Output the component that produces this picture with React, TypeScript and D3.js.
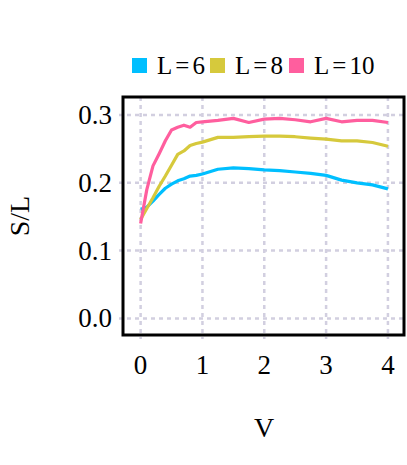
import React from 'react';
import * as d3 from 'd3';

// sampled V positions shared by all three curves
const vValues = [0, 0.1, 0.2, 0.3, 0.4, 0.5, 0.6, 0.7, 0.8, 0.9, 1.0, 1.25, 1.5, 1.75, 2.0, 2.25, 2.5, 2.75, 3.0, 3.25, 3.5, 3.75, 4.0];

const sL6 = [0.161, 0.164, 0.173, 0.183, 0.192, 0.198, 0.203, 0.206, 0.210, 0.211, 0.213, 0.220, 0.222, 0.221, 0.219, 0.218, 0.216, 0.214, 0.211, 0.204, 0.200, 0.197, 0.191];
const sL8 = [0.146, 0.162, 0.178, 0.195, 0.210, 0.226, 0.242, 0.247, 0.255, 0.258, 0.260, 0.267, 0.267, 0.268, 0.269, 0.269, 0.268, 0.266, 0.2645, 0.262, 0.262, 0.2595, 0.254];
const sL10 = [0.140, 0.190, 0.225, 0.243, 0.262, 0.278, 0.282, 0.285, 0.282, 0.289, 0.290, 0.292, 0.295, 0.289, 0.294, 0.295, 0.293, 0.290, 0.295, 0.290, 0.292, 0.292, 0.289];

const seriesNames = ['L=6', 'L=8', 'L=10'];
const seriesColors = ['#00bfff', '#d6c93c', '#ff5e9e'];
const xTicks = [0, 1, 2, 3, 4];
const yTicks = [0, 0.1, 0.2, 0.3];

const FONT = '"Liberation Serif", "Times New Roman", serif';
const GRID = '#d2cfe0';

export default function App() {
  const W = 407, H = 465;
  const left = 123, right = 404, top = 97, bottom = 335;

  const x = d3.scaleLinear().domain([-0.285, 4.26]).range([left, right]);
  const y = d3.scaleLinear().domain([-0.0245, 0.3266]).range([bottom, top]);

  const all = [sL6, sL8, sL10];
  const line = d3.line<number>()
    .x((_, i) => x(vValues[i]))
    .y(d => y(d));

  // legend positions
  const legendX = [132, 210, 289];
  const legendY = 58;

  return (
    <svg width={W} height={H} style={{ position: 'absolute', left: 0, top: 0, background: '#fff' }} fontFamily={FONT}>
      {/* grid */}
      <g stroke={GRID} strokeWidth={2.5} strokeDasharray="4,4" fill="none">
        {xTicks.map(t => (
          <line key={'gx' + t} x1={x(t)} x2={x(t)} y1={top} y2={bottom + 4} />
        ))}
        {yTicks.map(t => (
          <line key={'gy' + t} x1={left - 4} x2={right} y1={y(t)} y2={y(t)} />
        ))}
      </g>

      {/* curves */}
      {all.map((s, i) => (
        <path key={seriesNames[i]} d={line(s) || ''} fill="none" stroke={seriesColors[i]}
          strokeWidth={3.2} strokeLinejoin="round" />
      ))}

      {/* frame */}
      <rect x={left} y={top} width={right - left} height={bottom - top} fill="none" stroke="#000" strokeWidth={3} />

      {/* x ticks */}
      <g fontSize={27} textAnchor="middle" fill="#000">
        {xTicks.map(t => (
          <text key={'xt' + t} x={x(t)} y={374}>{t}</text>
        ))}
      </g>
      {/* y ticks */}
      <g fontSize={27} textAnchor="end" fill="#000">
        {yTicks.map(t => (
          <text key={'yt' + t} x={112} y={y(t) + 9}>{d3.format('.1f')(t)}</text>
        ))}
      </g>

      {/* axis labels */}
      <text x={(left + right) / 2 + 0.5} y={437} fontSize={28} textAnchor="middle">V</text>
      <text transform={`translate(29, ${(top + bottom) / 2}) rotate(-90)`} fontSize={28} textAnchor="middle">S/L</text>

      {/* legend */}
      {seriesNames.map((n, i) => (
        <g key={'lg' + n}>
          <rect x={legendX[i]} y={legendY} width={15} height={15} fill={seriesColors[i]} />
          <text x={legendX[i] + 25} y={legendY + 16} fontSize={25}>
            {n.split('=')[0]}<tspan dx={3}>=</tspan><tspan dx={3}>{n.split('=')[1]}</tspan>
          </text>
        </g>
      ))}
    </svg>
  );
}
